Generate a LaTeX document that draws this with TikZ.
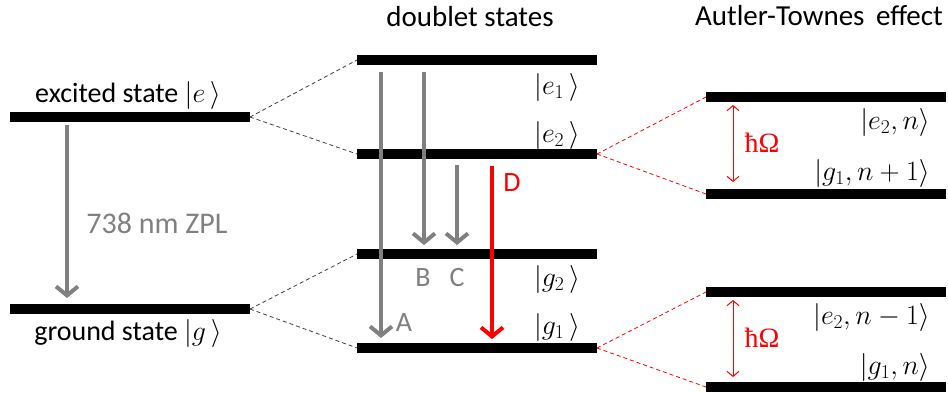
\RequirePackage{fix-cm}
\documentclass[tikz,border=0pt]{standalone}
\usepackage{fontspec}
\setmainfont{Carlito}
\newfontfamily\serifhb{Liberation Serif}
\usetikzlibrary{arrows.meta}
\begin{document}
\begin{tikzpicture}[x=1pt,y=-1pt,
  bar/.style={fill=black,minimum width=240pt,minimum height=10pt,inner sep=0pt,outer sep=0pt},
  lbl/.style={font=\fontsize{28}{32}\selectfont,inner sep=0pt},
  ket/.style={font=\fontsize{28}{32}\selectfont,inner sep=0pt},
  glbl/.style={lbl,text=gray},
  conn/.style={dash pattern=on 4pt off 3pt,line width=0.8pt,black!75},
  rconn/.style={dash pattern=on 4pt off 3pt,line width=0.8pt,red},
  trans/.style={line width=4pt,draw=gray,-{Straight Barb[length=9pt,width=22pt,line width=4pt]}},
  rtrans/.style={trans,draw=red},
  rabi/.style={line width=1pt,red,{Straight Barb[length=5pt,width=12pt,line width=1pt]}-{Straight Barb[length=5pt,width=12pt,line width=1pt]}}]
\useasboundingbox (0,0) rectangle (948,392);
% bars
\node[bar] (ex) at (130,117) {};
\node[bar] (gr) at (130,309) {};
\node[bar] (e1) at (477,60) {};
\node[bar] (e2) at (477,154) {};
\node[bar] (g2) at (477,254) {};
\node[bar] (g1) at (477,348) {};
\node[bar] (ae2n) at (826,97) {};
\node[bar] (ag1n1) at (826,194) {};
\node[bar] (ae2n1) at (826,292) {};
\node[bar] (ag1n) at (826,387) {};
% titles
\node[lbl,font=\fontsize{29}{33}\selectfont] (t1) at (470,17) {doublet states};
\node[lbl,font=\fontsize{29}{33}\selectfont] (t2) at (819,16) {Autler-Townes\hspace{5pt} effect};
% left labels
\node[lbl] (lex) at (128,95) {excited state $|e\,\rangle$};
\node[lbl] (lgr) at (128,333) {ground state $|g\,\rangle$};
\node[glbl,font=\fontsize{30}{34}\selectfont] (zpl) at (157,223) {738 nm ZPL};
% connectors
\draw[conn] (ex.east) -- (e1.west);
\draw[conn] (ex.east) -- (e2.west);
\draw[conn] (gr.east) -- (g2.west);
\draw[conn] (gr.east) -- (g1.west);
\draw[rconn] (e2.east) -- (ae2n.west);
\draw[rconn] (e2.east) -- (ag1n1.west);
\draw[rconn] (g1.east) -- (ae2n1.west);
\draw[rconn] (g1.east) -- (ag1n.west);
% transitions
\coordinate (zs) at (67,125); \coordinate (ze) at (67,298);
\draw[trans] (zs) -- (ze);
\coordinate (As) at (381,72); \coordinate (Ae) at (381,338);
\coordinate (Bs) at (424,72); \coordinate (Be) at (424,245);
\coordinate (Cs) at (457,165); \coordinate (Ce) at (457,245);
\coordinate (Ds) at (492,166); \coordinate (De) at (492,339);
\draw[trans] (As) -- (Ae);
\draw[trans] (Bs) -- (Be);
\draw[trans] (Cs) -- (Ce);
\draw[rtrans] (Ds) -- (De);
\node[glbl] (lA) at (404,323) {A};
\node[glbl] (lB) at (423,278) {B};
\node[glbl] (lC) at (457,278) {C};
\node[lbl,text=red] (lD) at (512,183) {D};
% ket labels middle
\node[ket] (ke1) at (557,87) {$|e_1\,\rangle$};
\node[ket] (ke2) at (557,135) {$|e_2\,\rangle$};
\node[ket] (kg2) at (557,279) {$|g_2\,\rangle$};
\node[ket] (kg1) at (557,327) {$|g_1\,\rangle$};
% Autler-Townes
\coordinate (r1s) at (733,105); \coordinate (r1e) at (733,182);
\coordinate (r2s) at (733,300); \coordinate (r2e) at (733,377);
\draw[rabi] (r1s) -- (r1e);
\draw[rabi] (r2s) -- (r2e);
\node[lbl,text=red,font=\serifhb\fontsize{28}{32}\selectfont] (h1) at (762,143) {ħΩ};
\node[lbl,text=red,font=\serifhb\fontsize{28}{32}\selectfont] (h2) at (762,338) {ħΩ};
\node[ket,anchor=east] (k1) at (930,122) {$|e_2,n\rangle$};
\node[ket,anchor=east] (k2) at (930,173) {$|g_1,n+1\rangle$};
\node[ket,anchor=east] (k3) at (930,317) {$|e_2,n-1\rangle$};
\node[ket,anchor=east] (k4) at (930,367) {$|g_1,n\rangle$};
\end{tikzpicture}
\end{document}
